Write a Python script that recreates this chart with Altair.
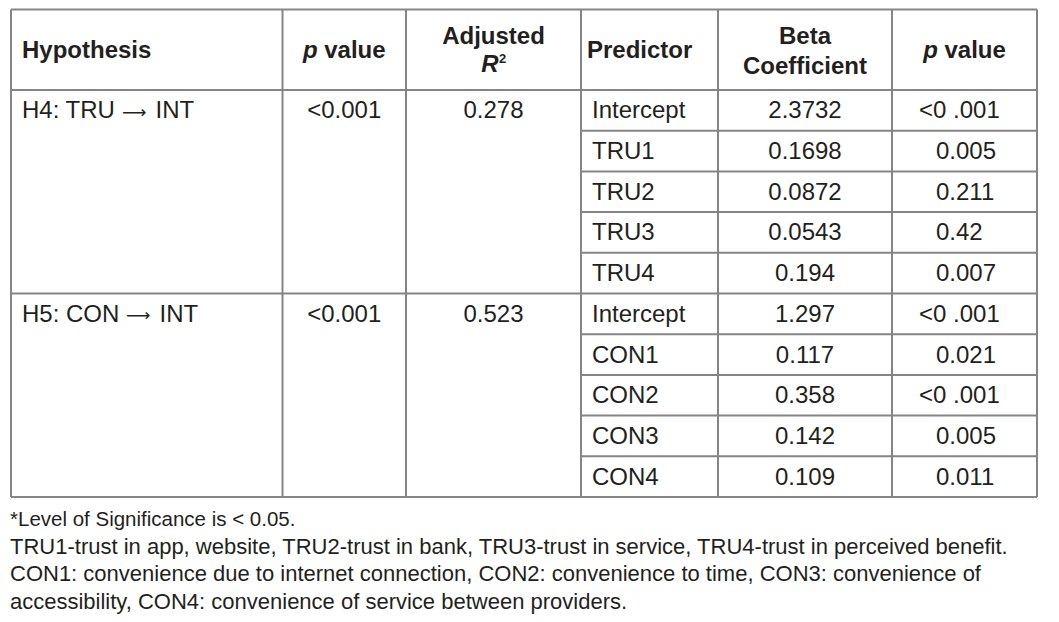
import altair as alt
import pandas as pd

# ---------------- data ----------------
hypotheses = ["H4: TRU \u2192 INT", "H5: CON \u2192 INT"]
model_p = ["<0.001", "<0.001"]
adj_r2 = ["0.278", "0.523"]
predictors = ["Intercept", "TRU1", "TRU2", "TRU3", "TRU4",
              "Intercept", "CON1", "CON2", "CON3", "CON4"]
betas = ["2.3732", "0.1698", "0.0872", "0.0543", "0.194",
         "1.297", "0.117", "0.358", "0.142", "0.109"]
pred_p = ["<0 .001", "0.005", "0.211", "0.42", "0.007",
          "<0 .001", "0.021", "<0 .001", "0.005", "0.011"]
footnotes = [
    "*Level of Significance is < 0.05.",
    "TRU1-trust in app, website, TRU2-trust in bank, TRU3-trust in service, TRU4-trust in perceived benefit.",
    "CON1: convenience due to internet connection, CON2: convenience to time, CON3: convenience of",
    "accessibility, CON4: convenience of service between providers.",
]

# ---------------- layout (page pixel coordinates) ----------------
W, H = 1043, 606
FONT = "Liberation Sans"
TXT = "#231f20"
LINE = "#858585"
FS = 24
HFS = 24
COL_X = [11, 282.5, 406, 581, 718, 892, 1037]
TOP = 9.5
HDR_BOT = 90
ROW_H = 40.7
N_ROWS = len(predictors)
BOTTOM = HDR_BOT + N_ROWS * ROW_H
GROUP = len(predictors) // len(hypotheses)

# approximate Arial/Liberation Sans regular advance widths (per em) for flow layout
ARIAL_W = {" ": 0.278, ":": 0.278, "0": 0.556, "1": 0.556, "2": 0.556, "3": 0.556,
           "4": 0.556, "5": 0.556, "6": 0.556, "7": 0.556, "8": 0.556, "9": 0.556,
           "C": 0.722, "H": 0.722, "I": 0.278, "N": 0.722, "O": 0.778, "R": 0.722,
           "T": 0.611, "U": 0.722}


def text_w(s, size):
    return sum(ARIAL_W.get(c, 0.556) for c in s) * size


def ctr(i):
    return (COL_X[i] + COL_X[i + 1]) / 2


xs = alt.Scale(domain=[8, 8 + W], range=[0, W])
ys = alt.Scale(domain=[8, 8 + H], range=[0, H])

# rules
rules = []
for cx in COL_X:
    rules.append(dict(x=cx, x2=cx, y=TOP, y2=BOTTOM))
for yy in [TOP, HDR_BOT, HDR_BOT + GROUP * ROW_H, BOTTOM]:
    rules.append(dict(x=COL_X[0], x2=COL_X[-1], y=yy, y2=yy))
for i in range(1, N_ROWS):
    if i % GROUP != 0:
        yy = HDR_BOT + i * ROW_H
        rules.append(dict(x=COL_X[3], x2=COL_X[-1], y=yy, y2=yy))
rules_df = pd.DataFrame(rules)

rule_layer = alt.Chart(rules_df).mark_rule(color=LINE, strokeWidth=2).encode(
    x=alt.X("x:Q", scale=xs, axis=None),
    x2="x2:Q",
    y=alt.Y("y:Q", scale=ys, axis=None),
    y2="y2:Q",
)


def text_layer(df, align="left", size=FS, weight="normal", style="normal",
               color=TXT, font=FONT):
    return alt.Chart(df).mark_text(
        align=align, baseline="alphabetic", font=font, fontSize=size,
        fontWeight=weight, fontStyle=style, color=color,
    ).encode(
        x=alt.X("x:Q", scale=xs, axis=None),
        y=alt.Y("y:Q", scale=ys, axis=None),
        text="t:N",
    )


layers = [rule_layer]

# headers
HB1 = 58   # single-line baseline
HB_A = 44  # first of two lines
HB_B = 74  # second of two lines
hdr_left = pd.DataFrame([
    dict(t="Hypothesis", x=22, y=HB1),
    dict(t="Predictor", x=587, y=HB1),
])
hdr_center = pd.DataFrame([
    dict(t="Adjusted", x=ctr(2), y=HB_A),
    dict(t="Beta", x=ctr(4), y=HB_A),
    dict(t="Coefficient", x=ctr(4), y=HB_B),
])
layers.append(text_layer(hdr_left, "left", size=HFS, weight="bold"))
layers.append(text_layer(hdr_center, "center", size=HFS, weight="bold"))

# "p value" headers (italic p)
p_w = 0.611 * HFS
sp_w = 0.278 * HFS
val_w = (0.556 + 0.556 + 0.278 + 0.611 + 0.556) * HFS
tot = p_w + sp_w + val_w
pv_p, pv_v = [], []
for ci in (1, 5):
    start = ctr(ci) - tot / 2
    pv_p.append(dict(t="p", x=start, y=HB1))
    pv_v.append(dict(t="value", x=start + p_w + sp_w, y=HB1))
layers.append(text_layer(pd.DataFrame(pv_p), "left", size=HFS, weight="bold", style="italic"))
layers.append(text_layer(pd.DataFrame(pv_v), "left", size=HFS, weight="bold"))

# R^2
r_w = 0.722 * HFS
sup_fs = 13
sup_w = 0.556 * sup_fs
r_start = ctr(2) - (r_w + sup_w) / 2
layers.append(text_layer(pd.DataFrame([dict(t="R", x=r_start, y=HB_B - 2)]),
                         "left", size=HFS, weight="bold", style="italic"))
layers.append(text_layer(pd.DataFrame([dict(t="2", x=r_start + r_w + 0.5, y=HB_B - 11)]),
                         "left", size=sup_fs, weight="bold"))

# body
BASE_OFF = 28.3
row_base = [HDR_BOT + i * ROW_H + BASE_OFF for i in range(N_ROWS)]

# hypothesis labels: split around the arrow so the arrow can use a long thin glyph
ARROW_FS = 17
ARROW_W = 1.58 * ARROW_FS
GAP = 0.278 * FS
hyp_l, hyp_a, hyp_r = [], [], []
for g, h in enumerate(hypotheses):
    left, right = h.split(" \u2192 ")
    yb = row_base[g * GROUP]
    x0 = 22
    x_arrow = x0 + text_w(left, FS) + GAP
    x_right = x_arrow + ARROW_W + GAP
    hyp_l.append(dict(t=left, x=x0, y=yb))
    hyp_a.append(dict(t="\u27f6", x=x_arrow, y=yb - 0.5))
    hyp_r.append(dict(t=right, x=x_right, y=yb))
layers.append(text_layer(pd.DataFrame(hyp_l), "left"))
layers.append(text_layer(pd.DataFrame(hyp_a), "left", size=ARROW_FS, font="DejaVu Sans"))
layers.append(text_layer(pd.DataFrame(hyp_r), "left"))

mp_df = pd.DataFrame([dict(t=v, x=ctr(1), y=row_base[g * GROUP]) for g, v in enumerate(model_p)])
r2_df = pd.DataFrame([dict(t=v, x=ctr(2), y=row_base[g * GROUP]) for g, v in enumerate(adj_r2)])
pred_df = pd.DataFrame([dict(t=v, x=592, y=row_base[i]) for i, v in enumerate(predictors)])
beta_df = pd.DataFrame([dict(t=v, x=ctr(4), y=row_base[i]) for i, v in enumerate(betas)])
pp_df = pd.DataFrame([dict(t=v, x=(919 if v.startswith("<") else 936), y=row_base[i])
                      for i, v in enumerate(pred_p)])

layers.append(text_layer(mp_df, "center"))
layers.append(text_layer(r2_df, "center"))
layers.append(text_layer(pred_df, "left"))
layers.append(text_layer(beta_df, "center"))
layers.append(text_layer(pp_df, "left"))

# footnotes
FN_BASE = [526, 553.5, 581, 608.5]
fn_df0 = pd.DataFrame([dict(t=footnotes[0], x=10, y=FN_BASE[0])])
fn_df = pd.DataFrame([dict(t=s, x=10, y=FN_BASE[i + 1]) for i, s in enumerate(footnotes[1:])])
layers.append(text_layer(fn_df0, "left", size=20.5))
layers.append(text_layer(fn_df, "left", size=22))

chart = alt.layer(*layers).properties(
    width=W, height=H,
    autosize=alt.AutoSizeParams(type="none"),
    padding=0,
    background="white",
).configure_view(stroke=None)

chart.save("out.html", embed_options={"renderer": "svg", "actions": False})
